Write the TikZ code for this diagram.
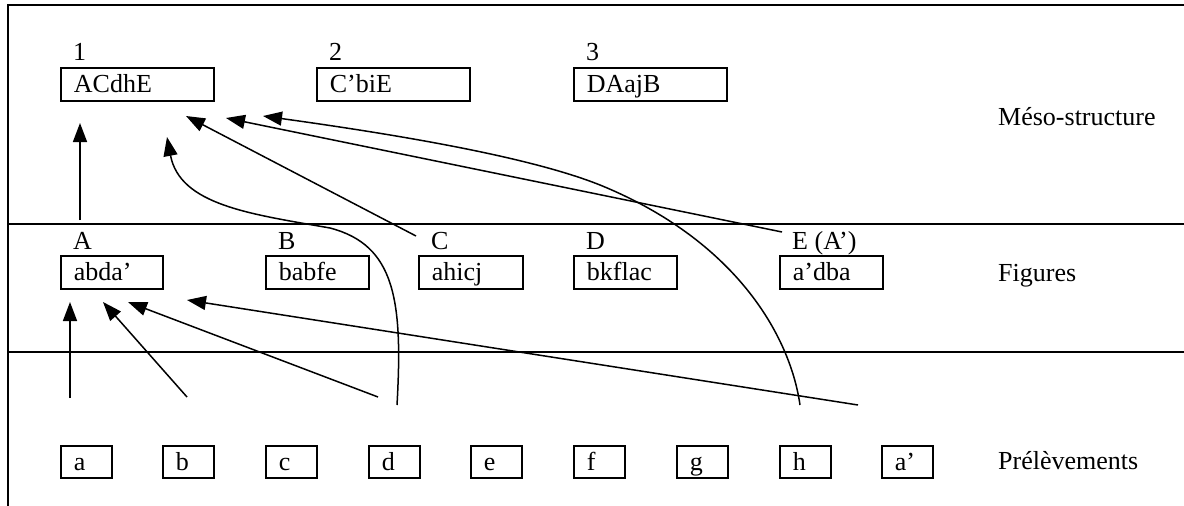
\documentclass[tikz,border=0pt]{standalone}
\usepackage{fontspec}
\setmainfont{Liberation Serif}
\usetikzlibrary{arrows.meta}
\begin{document}
\begin{tikzpicture}[x=1pt,y=-1pt,
  every node/.style={font=\fontsize{26}{30}\selectfont},
  frame/.style={line width=2.2pt},
  bigbox/.style={draw,line width=1.8pt,anchor=north west,inner xsep=13pt,inner ysep=0pt,
    text width=127pt,minimum height=33pt,text height=17pt,text depth=0pt,align=left},
  smallbox/.style={draw,line width=1.8pt,anchor=north west,inner xsep=13pt,inner ysep=0pt,
    text width=25pt,minimum height=32pt,text height=17pt,text depth=0pt,align=left},
  lbl/.style={anchor=base west,inner sep=0pt},
  arr/.style={line width=1.5pt,-{Triangle[length=19pt,width=14pt]}}]
\useasboundingbox (0,0) rectangle (1184,506);
% frame
\draw[frame] (8,506) -- (8,5) -- (1184,5);
\draw[frame] (8,224) -- (1184,224);
\draw[frame] (8,352) -- (1184,352);
% meso-structure
\node[bigbox] (m1) at (60,67) {ACdhE};
\node[bigbox] (m2) at (316,67) {C’biE};
\node[bigbox] (m3) at (573,67) {DAajB};
\node[lbl] (l1) at (73,60) {1};
\node[lbl] (l2) at (329,60) {2};
\node[lbl] (l3) at (586,60) {3};
% figures
\node[bigbox,text width=76pt] (fA) at (60,255) {abda’};
\node[bigbox,text width=77pt] (fB) at (265,255) {babfe};
\node[bigbox,text width=78pt] (fC) at (418,255) {ahicj};
\node[bigbox,text width=77pt] (fD) at (573,255) {bkflac};
\node[bigbox,text width=77pt] (fE) at (779,255) {a’dba};
\node[lbl] (lA) at (73,249) {A};
\node[lbl] (lB) at (278,249) {B};
\node[lbl] (lC) at (431,249) {C};
\node[lbl] (lD) at (586,249) {D};
\node[lbl] (lE) at (792,249) {E (A’)};
% prelevements
\node[smallbox] (pa) at (60,445) {a};
\node[smallbox] (pb) at (162,445) {b};
\node[smallbox] (pc) at (265,445) {c};
\node[smallbox] (pd) at (368,445) {d};
\node[smallbox] (pe) at (470,445) {e};
\node[smallbox] (pf) at (573,445) {f};
\node[smallbox] (pg) at (676,445) {g};
\node[smallbox] (ph) at (779,445) {h};
\node[smallbox] (pa2) at (881,445) {a’};
% level names
\node[lbl] (t1) at (998,125) {Méso-structure};
\node[lbl] (t2) at (998,281) {Figures};
\node[lbl] (t3) at (998,469) {Prélèvements};
% arrow end points
\coordinate (s1) at (80,220);   \coordinate (e1) at (80,123);
\coordinate (s2) at (397,405);  \coordinate (e2) at (167,137);
\coordinate (s3) at (416,236);  \coordinate (e3) at (186,116);
\coordinate (s4) at (782,232);  \coordinate (e4) at (226,118);
\coordinate (s5) at (800,405);  \coordinate (e5) at (263,116);
\coordinate (s6) at (70,398);   \coordinate (e6) at (70,302);
\coordinate (s7) at (187,397);  \coordinate (e7) at (103,302);
\coordinate (s8) at (378,397);  \coordinate (e8) at (128,302);
\coordinate (s9) at (858,405);  \coordinate (e9) at (187,300);
% arrows to meso-structure
\draw[arr] (s1) -- (e1);
\draw[arr] (s2) .. controls (403,300) and (395,245) .. (330,228)
               .. controls (250,214) and (180,205) .. (e2);
\draw[arr] (s3) -- (e3);
\draw[arr] (s4) -- (e4);
\draw[arr] (s5) .. controls (790,335) and (735,240) .. (600,185)
               .. controls (530,157) and (400,135) .. (e5);
% arrows to figures
\draw[arr] (s6) -- (e6);
\draw[arr] (s7) -- (e7);
\draw[arr] (s8) -- (e8);
\draw[arr] (s9) -- (e9);
\end{tikzpicture}
\end{document}
